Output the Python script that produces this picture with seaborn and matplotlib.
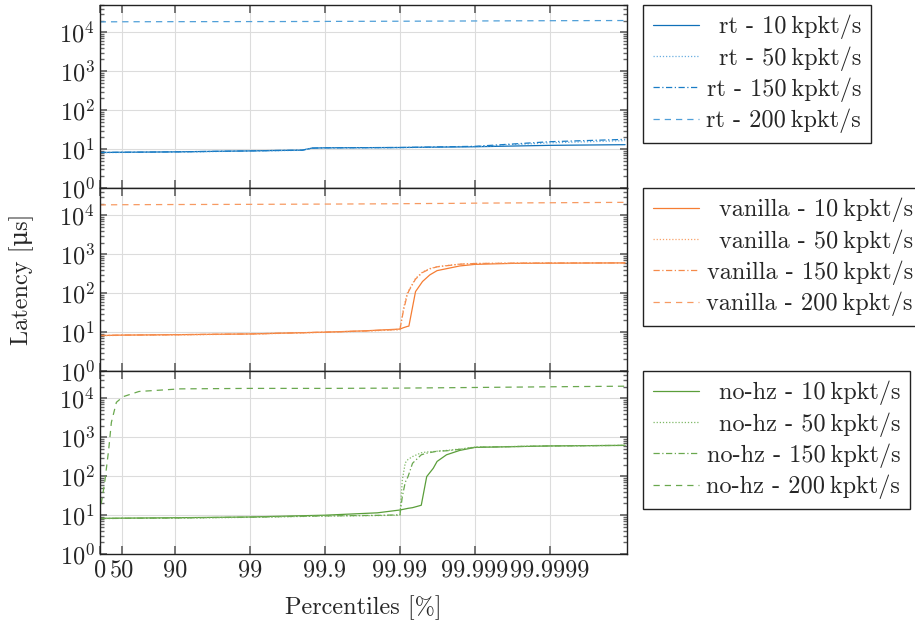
import numpy as np
import pandas as pd
import matplotlib
matplotlib.use("Agg")
import matplotlib.pyplot as plt
import matplotlib.ticker as mticker
import seaborn as sns

# percentiles (x) and latencies in us (y)
rates = ["10", "50", "150", "200"]

rt_pct = [0, 50, 90, 99, 99.5, 99.8, 99.85, 99.9, 99.99, 99.999, 99.9999, 99.99999]
rt_10 = [8.2, 8.3, 8.5, 9.0, 9.2, 9.4, 10.6, 10.8, 11.0, 11.5, 12.5, 13.0]
rt_50 = [8.1, 8.2, 8.4, 8.9, 9.1, 9.3, 10.5, 10.7, 10.9, 11.6, 14.5, 16.5]
rt_150 = [8.2, 8.3, 8.5, 9.0, 9.2, 9.4, 10.6, 10.8, 11.0, 11.8, 15.5, 17.8]
rt_200 = [18500, 18600, 18700, 18800, 18800, 18900, 18900, 19000, 19200, 19500, 19800, 20000]

van_pct = [0, 50, 90, 99, 99.9, 99.97, 99.99, 99.991, 99.992, 99.9924, 99.9938, 99.995,
           99.996, 99.9968, 99.9984, 99.999, 99.9997, 99.9999, 99.99999]
van_10 = [8.2, 8.4, 8.6, 9.0, 10.0, 10.8, 12.0, 13.0, 14.0, 14.3, 110, 200, 295, 380, 500, 550, 585, 590, 600]
van_50 = [8.1, 8.3, 8.5, 8.9, 9.9, 10.6, 11.5, 40, 100, 120, 240, 350, 430, 480, 560, 580, 590, 595, 600]
van_150 = [8.2, 8.4, 8.6, 9.0, 10.0, 10.7, 11.8, 35, 90, 115, 230, 340, 420, 475, 555, 578, 590, 595, 600]
van_200 = [18500, 18700, 18900, 19100, 19400, 19600, 19800, 19900, 19900, 19900, 20000, 20000,
           20100, 20100, 20300, 20500, 20800, 21000, 21500]

nohz_pct = [0, 50, 90, 99, 99.9, 99.98, 99.99, 99.9907, 99.9915, 99.9922, 99.9932, 99.9948,
            99.9956, 99.9964, 99.9968, 99.9976, 99.9984, 99.999, 99.9999, 99.99999]
nohz_10 = [8.3, 8.4, 8.6, 9.0, 10.0, 11.5, 13.6, 14.0, 14.5, 15.0, 15.6, 18, 98, 160, 240, 355, 460, 550, 600, 620]
nohz_50 = [8.2, 8.3, 8.4, 8.8, 9.5, 9.8, 10.0, 80, 220, 270, 320, 400, 420, 430, 440, 460, 500, 560, 600, 620]
nohz_150 = [8.2, 8.3, 8.5, 8.9, 9.6, 9.9, 10.2, 30, 70, 98, 215, 355, 390, 420, 440, 450, 490, 555, 600, 620]
nohz200_pct = [0, 3, 14, 24, 30, 40, 51, 70, 91.5, 99, 99.9, 99.99, 99.999, 99.9999, 99.99999]
nohz_200 = [10, 16.5, 68, 480, 2400, 7900, 11000, 15000, 17500, 18000, 18000, 18300, 19000, 19800, 20500]

tick_pct = [0, 50, 90, 99, 99.9, 99.99, 99.999, 99.9999]
tick_labels = ["0", "50", "90", "99", "99.9", "99.99", "99.999", "99.9999"]

panels = [
    ("rt", [(rt_pct, rt_10), (rt_pct, rt_50), (rt_pct, rt_150), (rt_pct, rt_200)],
     ["#1070b8", "#6aaee0", "#1a7dc6", "#4f9fd8"]),
    ("vanilla", [(van_pct, van_10), (van_pct, van_50), (van_pct, van_150), (van_pct, van_200)],
     ["#f57d33", "#f9a26a", "#f58a4a", "#f79a62"]),
    ("no-hz", [(nohz_pct, nohz_10), (nohz_pct, nohz_50), (nohz_pct, nohz_150), (nohz200_pct, nohz_200)],
     ["#5a9e3a", "#7fb866", "#6aa84f", "#6aa84f"]),
]
styles = ["-", (0, (1, 1.5)), (0, (5, 2, 1, 2)), (0, (5, 4))]

FS = 17.5
sns.set_theme(style="ticks")
plt.rcParams["font.family"] = ["cmr10", "DejaVu Serif"]
plt.rcParams["mathtext.fontset"] = "cm"
plt.rcParams["axes.formatter.use_mathtext"] = True
plt.rcParams["font.size"] = FS
plt.rcParams["axes.unicode_minus"] = False


def to_nines(p):
    p = np.asarray(p, dtype=float)
    return -np.log10(np.clip(1 - p / 100.0, 1e-12, None))


def from_nines(x):
    return 100.0 * (1 - 10.0 ** (-np.asarray(x, dtype=float)))


fig, axes = plt.subplots(3, 1, figsize=(9.15, 6.29), dpi=100, sharex=True)
fig.subplots_adjust(left=0.109, right=0.685, top=0.992, bottom=0.119, hspace=0)

for ax, (name, series, colors) in zip(axes, panels):
    ax.set_xscale("function", functions=(to_nines, from_nines))
    ax.set_yscale("log")
    for rate, (pct, lat), c, ls in zip(rates, series, colors, styles):
        df = pd.DataFrame({"pct": pct, "lat": lat})
        sns.lineplot(data=df, x="pct", y="lat", ax=ax, color=c, linestyle=ls,
                     linewidth=0.9, errorbar=None, label=f"{name} - {rate}\u2009kpkt/s")
    ax.set_ylim(1, 5e4)
    ax.set_xlim(0, 99.9999905)
    ax.set_xticks(tick_pct)
    ax.set_xticklabels(tick_labels)
    ax.yaxis.set_major_locator(mticker.LogLocator(base=10, numticks=10))
    ax.yaxis.set_minor_locator(mticker.LogLocator(base=10, subs=np.arange(2, 10), numticks=10))
    ax.yaxis.set_minor_formatter(mticker.NullFormatter())
    ax.grid(True, which="major", color="#dcdcdc", linewidth=0.8)
    ax.set_axisbelow(True)
    ax.tick_params(axis="both", which="both", direction="in", color="#666666",
                   top=True, bottom=True, left=True, right=True, labelsize=FS)
    ax.tick_params(axis="y", which="major", length=5)
    ax.tick_params(axis="y", which="minor", length=3)
    ax.tick_params(axis="x", which="major", length=6)
    for sp in ax.spines.values():
        sp.set_color("#222222")
        sp.set_linewidth(1.0)
    ax.set_xlabel("")
    ax.set_ylabel("")
    leg = ax.legend(loc="upper left", bbox_to_anchor=(1.031, 1.0), borderaxespad=0,
                    fancybox=False, framealpha=1, edgecolor="#222222", fontsize=FS,
                    handlelength=1.9, handletextpad=0.3, labelspacing=0.28, borderpad=0.4)
    leg.get_frame().set_linewidth(1.0)

axes[1].set_ylabel("Latency [\u03bcs]", fontsize=FS, labelpad=18)
axes[2].set_xlabel("Percentiles [%]", fontsize=FS, labelpad=10)

# right-align the legend labels (shift each text by the width it lacks)
fig.canvas.draw()
for ax in axes:
    texts = ax.get_legend().get_texts()
    widths = [t.get_window_extent().width for t in texts]
    for t, w in zip(texts, widths):
        t.set_position((max(widths) - w, 0))

fig.savefig("out.png", dpi=100)
